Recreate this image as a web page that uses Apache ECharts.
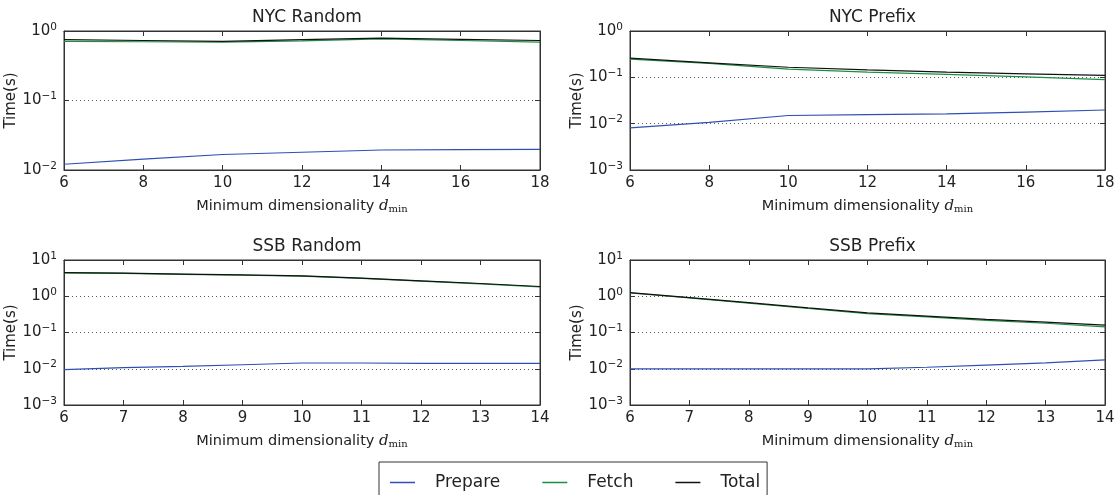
<!DOCTYPE html>
<html>
<head>
<meta charset="utf-8">
<script src="https://cdn.jsdelivr.net/npm/echarts@6/dist/echarts.min.js"></script>
<style>
    html, body { margin: 0; padding: 0; background: #fff; }
    #chart { width: 1118px; height: 495px; }
</style>
</head>
<body>
<div id="chart"></div>
<script type="text/javascript">

    // x values (minimum dimensionality)
    var nycX = [6, 8, 10, 12, 14, 16, 18];
    var ssbX = [6, 7, 8, 9, 10, 11, 12, 13, 14];

    // NYC Random
    var nycRandomPrepare = [0.0121, 0.0143, 0.0167, 0.0180, 0.0194, 0.0196, 0.0198];
    var nycRandomFetch   = [0.71, 0.70, 0.69, 0.72, 0.77, 0.73, 0.69];
    var nycRandomTotal   = [0.75, 0.73, 0.71, 0.75, 0.79, 0.76, 0.73];

    // NYC Prefix
    var nycPrefixPrepare = [0.0081, 0.0107, 0.0150, 0.0157, 0.0162, 0.0178, 0.0197];
    var nycPrefixFetch   = [0.246, 0.200, 0.150, 0.130, 0.116, 0.102, 0.089];
    var nycPrefixTotal   = [0.259, 0.206, 0.165, 0.145, 0.129, 0.119, 0.110];

    // SSB Random
    var ssbRandomPrepare = [0.0094, 0.0107, 0.0116, 0.0129, 0.0144, 0.0144, 0.0141, 0.0140, 0.0140];
    var ssbRandomFetch   = [4.4, 4.25, 4.0, 3.8, 3.6, 3.1, 2.6, 2.2, 1.8];
    var ssbRandomTotal   = [4.5, 4.35, 4.1, 3.9, 3.67, 3.16, 2.67, 2.25, 1.86];

    // SSB Prefix
    var ssbPrefixPrepare = [0.0099, 0.0099, 0.0099, 0.0099, 0.0099, 0.0110, 0.0126, 0.0145, 0.0175];
    var ssbPrefixFetch   = [1.23, 0.90, 0.65, 0.46, 0.33, 0.27, 0.215, 0.18, 0.143];
    var ssbPrefixTotal   = [1.26, 0.92, 0.67, 0.48, 0.35, 0.284, 0.23, 0.194, 0.16];

    var panelTitles = ['NYC Random', 'NYC Prefix', 'SSB Random', 'SSB Prefix'];
    var seriesNames = ['Prepare', 'Fetch', 'Total'];
    var seriesColors = ['#2f4fb3', '#1a8f40', '#111111'];

    var panels = [
        { x: nycX, data: [nycRandomPrepare, nycRandomFetch, nycRandomTotal], xmin: 6, xmax: 18, xint: 2, ymin: 0.01, ymax: 1 },
        { x: nycX, data: [nycPrefixPrepare, nycPrefixFetch, nycPrefixTotal], xmin: 6, xmax: 18, xint: 2, ymin: 0.001, ymax: 1 },
        { x: ssbX, data: [ssbRandomPrepare, ssbRandomFetch, ssbRandomTotal], xmin: 6, xmax: 14, xint: 1, ymin: 0.001, ymax: 10 },
        { x: ssbX, data: [ssbPrefixPrepare, ssbPrefixFetch, ssbPrefixTotal], xmin: 6, xmax: 14, xint: 1, ymin: 0.001, ymax: 10 }
    ];

    var grids = [
        { left: 64, width: 476, top: 31, height: 139 },
        { left: 630, width: 475, top: 31, height: 139 },
        { left: 64, width: 476, top: 260, height: 145 },
        { left: 630, width: 475, top: 260, height: 145 }
    ];

    var font = 'DejaVu Sans';
    var frameColor = '#333';

    function logLabel(v) {
        var e = Math.round(Math.log10(v));
        var s = e < 0 ? '\u2212' + (-e) : '' + e;
        return '{b|10}{s|' + s + '}';
    }

    var option = {
        animation: false,
        textStyle: { fontFamily: font, color: '#222' },
        title: [],
        grid: [],
        xAxis: [],
        yAxis: [],
        series: [],
        legend: {
            left: 379,
            top: 462,
            orient: 'horizontal',
            itemWidth: 25,
            itemHeight: 1.5,
            itemGap: 42,
            icon: 'rect',
            borderColor: '#333',
            borderWidth: 1,
            padding: [12, 7, 14, 11],
            textStyle: { fontFamily: font, fontSize: 17, color: '#222', padding: [0, 0, 0, 15] },
            data: seriesNames
        }
    };

    panels.forEach(function (p, i) {
        var g = grids[i];
        option.grid.push({
            left: g.left, width: g.width, top: g.top, height: g.height,
            show: true, borderColor: frameColor, borderWidth: 1
        });
        option.title.push({
            text: panelTitles[i],
            left: g.left + g.width / 2,
            top: g.top - 27,
            textAlign: 'center',
            textStyle: { fontFamily: font, fontSize: 17, fontWeight: 'normal', color: '#222' }
        });

        // bottom x axis
        option.xAxis.push({
            type: 'value', gridIndex: i, position: 'bottom',
            min: p.xmin, max: p.xmax, interval: p.xint,
            name: 'Minimum dimensionality {i|d}{sub|min}',
            nameLocation: 'middle', nameGap: 28,
            nameTextStyle: {
                fontFamily: font, fontSize: 14.5, color: '#222',
                rich: {
                    i: { fontFamily: 'DejaVu Serif', fontStyle: 'italic', fontSize: 15, color: '#222' },
                    sub: { fontFamily: 'DejaVu Serif', fontSize: 10, color: '#222', verticalAlign: 'bottom', padding: [6, 0, 0, 0] }
                }
            },
            axisLine: { show: true, lineStyle: { color: frameColor, width: 1 } },
            axisTick: { show: true, inside: true, length: 5, lineStyle: { color: frameColor } },
            axisLabel: { fontFamily: font, fontSize: 15, color: '#222', margin: 6 },
            splitLine: { show: false }
        });
        // top mirror x axis (ticks only)
        option.xAxis.push({
            type: 'value', gridIndex: i, position: 'top',
            min: p.xmin, max: p.xmax, interval: p.xint,
            axisLine: { show: true, lineStyle: { color: frameColor, width: 1 } },
            axisTick: { show: true, inside: true, length: 5, lineStyle: { color: frameColor } },
            axisLabel: { show: false },
            splitLine: { show: false }
        });

        // left log y axis
        option.yAxis.push({
            type: 'log', logBase: 10, gridIndex: i, position: 'left',
            min: p.ymin, max: p.ymax,
            name: 'Time(s)', nameLocation: 'middle', nameGap: 44, nameRotate: 90,
            nameTextStyle: { fontFamily: font, fontSize: 15, color: '#222' },
            axisLine: { show: true, lineStyle: { color: frameColor, width: 1 } },
            axisTick: { show: true, inside: true, length: 5, lineStyle: { color: frameColor } },
            axisLabel: {
                formatter: logLabel, margin: 7,
                rich: {
                    b: { fontFamily: font, fontSize: 15, color: '#222', lineHeight: 19 },
                    s: { fontFamily: font, fontSize: 10.5, color: '#222', verticalAlign: 'top', lineHeight: 10 }
                }
            },
            splitLine: { show: true, lineStyle: { color: '#555', width: 1, type: [1, 3] } }
        });
        // right mirror y axis (ticks only)
        option.yAxis.push({
            type: 'log', logBase: 10, gridIndex: i, position: 'right',
            min: p.ymin, max: p.ymax,
            axisLine: { show: true, lineStyle: { color: frameColor, width: 1 } },
            axisTick: { show: true, inside: true, length: 5, lineStyle: { color: frameColor } },
            axisLabel: { show: false },
            splitLine: { show: false }
        });

        p.data.forEach(function (vals, k) {
            option.series.push({
                name: seriesNames[k],
                type: 'line',
                xAxisIndex: i * 2,
                yAxisIndex: i * 2,
                symbol: 'none',
                lineStyle: { color: seriesColors[k], width: 1.2 },
                itemStyle: { color: seriesColors[k] },
                data: p.x.map(function (x, j) { return [x, vals[j]]; })
            });
        });
    });

    var chart = echarts.init(document.getElementById('chart'));
    chart.setOption(option);

</script>
</body>
</html>
